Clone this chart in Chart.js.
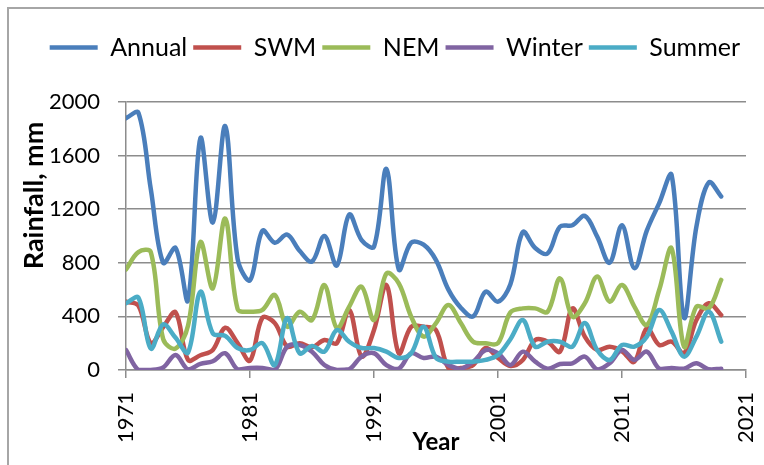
<!DOCTYPE html>
<html>
<head>
<meta charset="utf-8">
<script src="https://cdn.jsdelivr.net/npm/chart.js@4.4.1/dist/chart.umd.min.js"></script>
<style>
  html,body{margin:0;padding:0;background:#fff;}
  #wrap{width:764px;height:465px;position:relative;}
</style>
</head>
<body>
<div id="wrap"><canvas id="rain"></canvas></div>
<script>
const years = [1971,1972,1973,1974,1975,1976,1977,1978,1979,1980,
  1981,1982,1983,1984,1985,1986,1987,1988,1989,1990,
  1991,1992,1993,1994,1995,1996,1997,1998,1999,2000,
  2001,2002,2003,2004,2005,2006,2007,2008,2009,2010,
  2011,2012,2013,2014,2015,2016,2017,2018,2019];

const annual = [1880,1920,1350,800,910,520,1730,1100,1820,830,
  670,1040,950,1010,890,810,1000,780,1160,970,
  920,1500,750,950,935,820,600,465,400,585,
  510,640,1030,910,870,1070,1080,1150,995,800,
  1080,760,1040,1245,1455,390,1070,1400,1295];

const swm = [510,480,200,320,430,75,110,150,315,200,
  70,390,350,175,200,170,224,200,448,100,
  298,634,125,323,323,298,15,15,37,164,
  90,30,75,224,211,137,460,249,149,174,
  140,62,313,187,211,125,373,498,410];

const nem = [750,880,880,230,160,330,955,610,1130,455,
  435,448,560,323,435,373,634,313,473,622,
  373,721,647,398,249,350,485,350,211,200,
  200,430,460,460,435,684,398,498,697,510,
  634,473,336,597,908,174,473,460,672];

const winter = [149,0,0,20,112,5,45,65,125,5,
  15,15,0,174,187,137,37,0,5,100,
  125,37,10,125,90,100,37,10,62,149,
  125,37,137,62,10,45,50,100,5,50,
  149,75,137,10,15,10,50,5,10];

const summer = [498,540,160,340,240,130,584,274,255,164,
  149,200,37,388,125,180,137,298,211,164,
  164,137,90,125,323,90,62,62,62,75,
  112,230,373,174,211,211,174,350,149,75,
  187,174,249,448,286,100,249,435,211];

const seriesNames = ['Annual','SWM','NEM','Winter','Summer'];
const seriesColors = ['#4A7EBB','#C0504D','#9BBB59','#8064A2','#4BACC6'];
const seriesValues = [annual, swm, nem, winter, summer];

const xTicks = [1971,1981,1991,2001,2011,2021];
const yTicks = [0,400,800,1200,1600,2000];

const FONT = 'Lato, "Open Sans", Arial, sans-serif';
const GRID = '#8c8c8c';

const datasets = seriesNames.map((name,i)=>({
  label: name,
  data: years.map((y,j)=>({x:y, y:seriesValues[i][j]})),
  borderColor: seriesColors[i],
  backgroundColor: seriesColors[i],
  borderWidth: 4.5,
  borderCapStyle: 'round',
  borderJoinStyle: 'round',
  pointRadius: 0,
  tension: 0.35,
  fill: false,
  order: seriesNames.length - i
}));

// frame lines at the left and top of the picture
const framePlugin = {
  id: 'frame',
  beforeDraw(chart){
    const ctx = chart.ctx;
    ctx.save();
    ctx.strokeStyle = '#a6a6a6';
    ctx.lineWidth = 2;
    ctx.beginPath();
    ctx.moveTo(8, 465);
    ctx.lineTo(8, 8);
    ctx.lineTo(764, 8);
    ctx.stroke();
    ctx.restore();
  }
};

const legendHeight = {
  id: 'legendHeight',
  beforeInit(chart){
    const fit = chart.legend.fit;
    chart.legend.fit = function(){
      fit.call(this);
      this.height = 73;
    };
  }
};

new Chart(document.getElementById('rain'), {
  type: 'line',
  data: {datasets},
  plugins: [framePlugin, legendHeight],
  options: {
    responsive: true,
    maintainAspectRatio: false,
    animation: false,
    layout: {padding: {top: 29, left: 0, right: 18, bottom: 0}},
    plugins: {
      tooltip: {enabled: false},
      legend: {
        position: 'top',
        align: 'end',
        labels: {
          usePointStyle: true,
          pointStyle: 'line',
          pointStyleWidth: 48,
          padding: 6,
          color: '#000',
          font: {family: FONT, size: 25},
          sort: (a,b) => a.datasetIndex - b.datasetIndex
        }
      }
    },
    scales: {
      x: {
        type: 'linear',
        min: 1971,
        max: 2021,
        afterBuildTicks(scale){ scale.ticks = xTicks.map(v=>({value:v})); },
        afterFit(scale){
          scale.height = 95;
          scale.paddingLeft = 0;
          scale.paddingRight = 12;
        },
        ticks: {
          color: '#000',
          font: {family: FONT, size: 22},
          maxRotation: 90,
          minRotation: 90,
          padding: 14,
          callback: v => String(v)
        },
        grid: {drawOnChartArea: false, drawTicks: true, tickLength: 8, color: GRID, lineWidth: 1.5},
        border: {display: true, color: GRID, width: 1.5},
        title: {display: true, text: 'Year', color: '#000',
          font: {family: FONT, size: 24, weight: 'bold'}, padding: {top: 0, bottom: 8}}
      },
      y: {
        min: 0,
        max: 2000,
        afterBuildTicks(scale){ scale.ticks = yTicks.map(v=>({value:v})); },
        afterFit(scale){ scale.width = 126; },
        ticks: {
          color: '#000',
          font: {family: FONT, size: 22},
          padding: 18,
          callback: v => String(v)
        },
        grid: {color: GRID, lineWidth: 1.5, tickLength: 8},
        border: {display: true, color: GRID, width: 1.5},
        title: {display: true, text: 'Rainfall, mm   ', align: 'end', color: '#000',
          font: {family: FONT, size: 27, weight: 'bold'}, padding: {top: 18, bottom: 0}}
      }
    }
  }
});
</script>
</body>
</html>
